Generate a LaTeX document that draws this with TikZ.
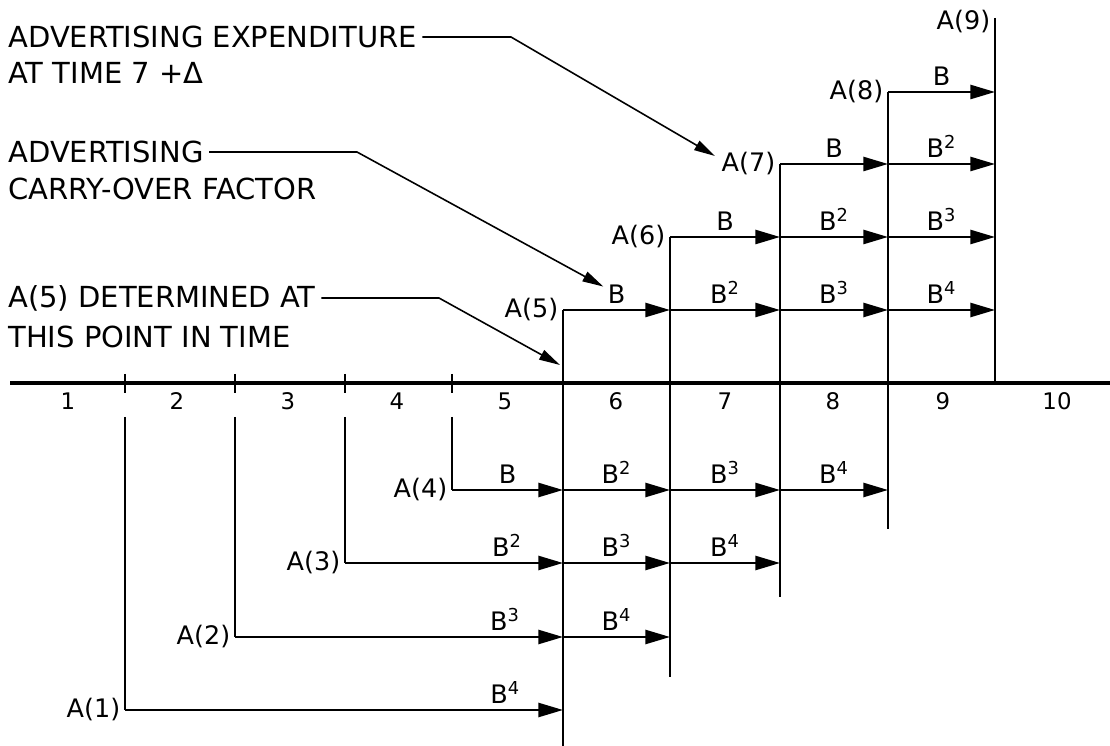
\documentclass[tikz,border=0pt]{standalone}
\usepackage{fontspec}
\setmainfont{DejaVu Sans}
\usetikzlibrary{positioning, arrows.meta}
\newcommand{\Bp}[1]{B\textsuperscript{#1}}

\begin{document}
\begin{tikzpicture}[
    x=0.02cm, y=-0.02cm,
    >={Triangle[length=14pt,width=8pt]},
    note/.style={font=\fontsize{16.5}{19}\selectfont, inner sep=0pt, anchor=west},
    alab/.style={font=\fontsize{14.5}{16}\selectfont, inner sep=2.5pt, anchor=east},
    blab/.style={font=\fontsize{14.5}{16}\selectfont, above, inner sep=3pt},
    num/.style={font=\fontsize{13}{15}\selectfont, inner sep=0pt},
    flow/.style={->, line width=1.3pt},
    stem/.style={line width=1.3pt},
    lead/.style={-{Triangle[length=12pt,width=6pt]}, line width=0.9pt}
  ]
  \useasboundingbox (0,0) rectangle (1110,746);

  % corner grid: columns 1-9, rows of A(1)..A(8)
  \foreach \c/\x in {1/125,2/235,3/345,4/452,5/563,6/670,7/780,8/888,9/995}
    \foreach \r/\y in {1/710,2/637,3/563,4/490,5/310,6/237,7/164,8/92}
      \coordinate (g\c-\r) at (\x,\y);
  \coordinate (top9) at (995,18);
  \coordinate (b5) at (563,746);
  \coordinate (b6) at (670,677);
  \coordinate (b7) at (780,597);
  \coordinate (b8) at (888,529);
  \coordinate (s1) at (125,417);
  \coordinate (s2) at (235,417);
  \coordinate (s3) at (345,417);
  \coordinate (s4) at (452,417);

  % time axis
  \coordinate (ax0) at (10,383);
  \coordinate (ax1) at (1110,383);
  \coordinate (b9) at (995,383);
  \draw[line width=2pt] (ax0) -- (ax1);
  \foreach \x in {125,235,345,452}
    \draw[stem] (\x,374) -- (\x,393);
  \foreach \n/\x in {1/68,2/177,3/288,4/397,5/505,6/616,7/725,8/833,9/943,10/1057}
    \node[num] (t\n) at (\x,401) {\n};

  % vertical stems
  \draw[stem] (g5-5) -- (b5);
  \draw[stem] (g6-6) -- (b6);
  \draw[stem] (g7-7) -- (b7);
  \draw[stem] (g8-8) -- (b8);
  \draw[stem] (top9) -- (b9);
  \draw[stem] (s1) -- (g1-1);
  \draw[stem] (s2) -- (g2-2);
  \draw[stem] (s3) -- (g3-3);
  \draw[stem] (s4) -- (g4-4);

  % rows above the axis
  \draw[flow] (g5-5) -- node[blab] (bA5) {B} (g6-5);
  \draw[flow] (g6-5) -- node[blab] {\Bp{2}} (g7-5);
  \draw[flow] (g7-5) -- node[blab] {\Bp{3}} (g8-5);
  \draw[flow] (g8-5) -- node[blab] {\Bp{4}} (g9-5);
  \draw[flow] (g6-6) -- node[blab] {B} (g7-6);
  \draw[flow] (g7-6) -- node[blab] {\Bp{2}} (g8-6);
  \draw[flow] (g8-6) -- node[blab] {\Bp{3}} (g9-6);
  \draw[flow] (g7-7) -- node[blab] {B} (g8-7);
  \draw[flow] (g8-7) -- node[blab] {\Bp{2}} (g9-7);
  \draw[flow] (g8-8) -- node[blab] {B} (g9-8);

  % rows below the axis
  \draw[flow] (g4-4) -- node[blab] {B} (g5-4);
  \draw[flow] (g5-4) -- node[blab] {\Bp{2}} (g6-4);
  \draw[flow] (g6-4) -- node[blab] {\Bp{3}} (g7-4);
  \draw[flow] (g7-4) -- node[blab] {\Bp{4}} (g8-4);
  \draw[flow] (g3-3) -- node[blab, pos=.743] {\Bp{2}} (g5-3);
  \draw[flow] (g5-3) -- node[blab] {\Bp{3}} (g6-3);
  \draw[flow] (g6-3) -- node[blab] {\Bp{4}} (g7-3);
  \draw[flow] (g2-2) -- node[blab, pos=.823] {\Bp{3}} (g5-2);
  \draw[flow] (g5-2) -- node[blab] {\Bp{4}} (g6-2);
  \draw[flow] (g1-1) -- node[blab, pos=.868] {\Bp{4}} (g5-1);

  % A(t) labels
  \node[alab] (lA1) at (g1-1) {A(1)};
  \node[alab] (lA2) at (g2-2) {A(2)};
  \node[alab] (lA3) at (g3-3) {A(3)};
  \node[alab] (lA4) at (g4-4) {A(4)};
  \node[alab] (lA5) at (g5-5) {A(5)};
  \node[alab] (lA6) at (g6-6) {A(6)};
  \node[alab] (lA7) at (g7-7) {A(7)};
  \node[alab] (lA8) at (g8-8) {A(8)};
  \node[alab] (lA9) at ([yshift=-2pt]top9) {A(9)};

  % notes with leaders
  \node[note] (n1a) at (8,37) {ADVERTISING EXPENDITURE};
  \node[note, below=8pt of n1a.south west, anchor=north west] (n1b) {AT TIME 7 +Δ};
  \node[note] (n2a) at (8,152) {ADVERTISING};
  \node[note, below=8pt of n2a.south west, anchor=north west] (n2b) {CARRY-OVER FACTOR};
  \node[note] (n3a) at (8,298) {A(5) DETERMINED AT};
  \node[note, below=8pt of n3a.south west, anchor=north west] (n3b) {THIS POINT IN TIME};
  \coordinate (el1) at (511,37);
  \coordinate (el2) at (357,150);
  \coordinate (el3) at (439,293);
  \coordinate (det) at (560,365);
  \draw[lead] ([xshift=3pt]n1a.east) -- (n1a.east -| el1) -- ([shift={(-2,-8)}]lA7.west);
  \draw[lead] ([xshift=3pt]n2a.east) -- (n2a.east -| el2) -- ([shift={(2,8)}]bA5.north west);
  \draw[lead] ([xshift=3pt]n3a.east) -- (n3a.east -| el3) -- (det);
\end{tikzpicture}
\end{document}
